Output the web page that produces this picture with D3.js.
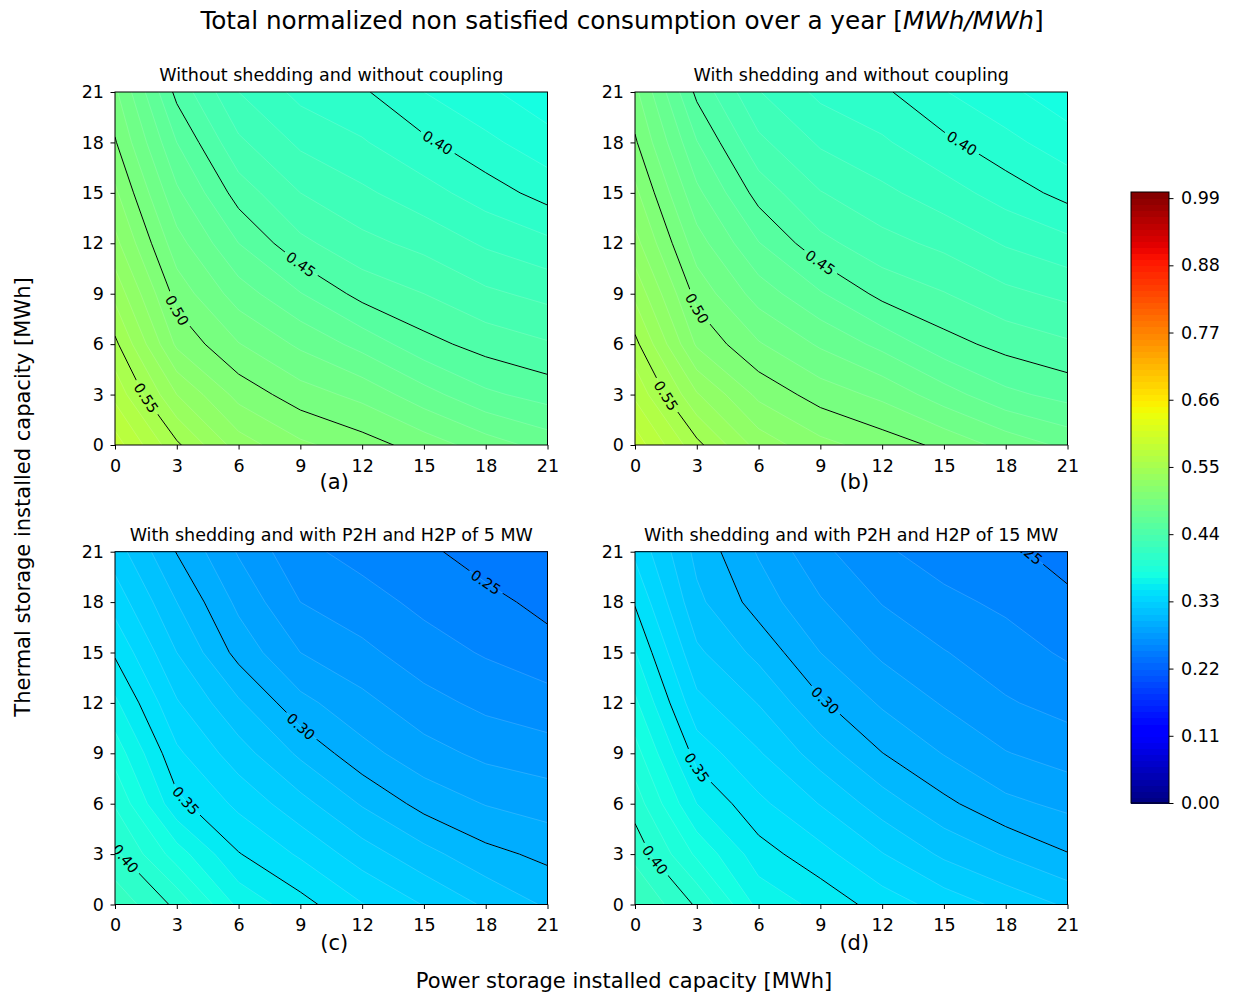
<!DOCTYPE html>
<html><head><meta charset="utf-8">
<script src="https://cdn.jsdelivr.net/npm/d3@7"></script>
<style>
body{margin:0;background:#fff;}
svg text{font-family:"DejaVu Sans",sans-serif;fill:#000;}
</style></head><body>
<svg id="chart" width="1233" height="994"></svg>
<script>
// ---------------- data ----------------
const xValues = [0, 3, 6, 9, 12, 15, 18, 21];   // power storage [MWh]
const yValues = [0, 3, 6, 9, 12, 15, 18, 21];   // thermal storage [MWh]
const xTicks = [0, 3, 6, 9, 12, 15, 18, 21];
const yTicks = [0, 3, 6, 9, 12, 15, 18, 21];

const panelTitles = [
  "Without shedding and without coupling",
  "With shedding and without coupling",
  "With shedding and with P2H and H2P of 5 MW",
  "With shedding and with P2H and H2P of 15 MW"
];
const panelLetters = ["(a)", "(b)", "(c)", "(d)"];

// rows: thermal storage 0..21 (bottom to top); columns: power storage 0..21
const zA = [
  [0.585, 0.552, 0.525, 0.512, 0.5045, 0.4956, 0.485, 0.476],
  [0.567, 0.530, 0.5065, 0.4947, 0.487, 0.474, 0.462, 0.456],
  [0.5525, 0.508, 0.4905, 0.478, 0.4665, 0.4535, 0.446, 0.441],
  [0.537, 0.496, 0.475, 0.4605, 0.4465, 0.440, 0.432, 0.427],
  [0.523, 0.484, 0.460, 0.4425, 0.433, 0.427, 0.4185, 0.4125],
  [0.512, 0.472, 0.4455, 0.430, 0.422, 0.414, 0.405, 0.396],
  [0.501, 0.460, 0.432, 0.418, 0.411, 0.402, 0.3925, 0.384],
  [0.492, 0.447, 0.420, 0.407, 0.4015, 0.390, 0.382, 0.373]
];
const zB = [
  [0.586, 0.553, 0.526, 0.513, 0.5055, 0.4975, 0.4865, 0.4775],
  [0.568, 0.531, 0.5075, 0.4955, 0.4875, 0.4745, 0.4625, 0.4565],
  [0.553, 0.5085, 0.491, 0.4785, 0.467, 0.454, 0.4465, 0.4415],
  [0.5375, 0.4965, 0.4755, 0.461, 0.447, 0.4405, 0.4325, 0.4275],
  [0.5235, 0.4845, 0.4605, 0.443, 0.4335, 0.4275, 0.419, 0.413],
  [0.5125, 0.4725, 0.446, 0.4305, 0.4225, 0.4145, 0.4055, 0.3965],
  [0.5015, 0.4605, 0.4325, 0.4185, 0.4115, 0.4025, 0.393, 0.3845],
  [0.4925, 0.4475, 0.4205, 0.4075, 0.402, 0.3905, 0.3825, 0.3735]
];
const zC = [
  [0.417, 0.3975, 0.3675, 0.3538, 0.3405, 0.3295, 0.3185, 0.3085],
  [0.4025, 0.375, 0.3506, 0.3385, 0.325, 0.3135, 0.303, 0.2975],
  [0.389, 0.3528, 0.3375, 0.3235, 0.309, 0.2965, 0.2895, 0.2855],
  [0.376, 0.342, 0.3245, 0.308, 0.2935, 0.284, 0.2775, 0.2745],
  [0.362, 0.331, 0.3115, 0.293, 0.283, 0.2735, 0.2675, 0.2635],
  [0.3485, 0.320, 0.2965, 0.280, 0.2725, 0.2645, 0.259, 0.2545],
  [0.336, 0.310, 0.2875, 0.270, 0.264, 0.2575, 0.2535, 0.2465],
  [0.325, 0.2995, 0.279, 0.2625, 0.2565, 0.2525, 0.2445, 0.240]
];
const zD = [
  [0.4205, 0.3985, 0.367, 0.357, 0.3455, 0.336, 0.327, 0.3185],
  [0.407, 0.378, 0.3545, 0.3435, 0.3305, 0.318, 0.309, 0.3005],
  [0.3955, 0.360, 0.3425, 0.3295, 0.315, 0.3025, 0.2925, 0.2875],
  [0.384, 0.346, 0.331, 0.315, 0.3002, 0.2895, 0.2805, 0.2755],
  [0.372, 0.333, 0.3195, 0.3015, 0.2885, 0.279, 0.271, 0.2665],
  [0.3605, 0.322, 0.307, 0.290, 0.278, 0.2705, 0.2645, 0.2585],
  [0.349, 0.3125, 0.2955, 0.281, 0.2695, 0.2625, 0.258, 0.2525],
  [0.338, 0.307, 0.289, 0.2725, 0.2615, 0.2555, 0.2525, 0.2455]
];

const lineLevelsTop = [0.40, 0.45, 0.50, 0.55];
const lineLevelsBottom = [0.25, 0.30, 0.35, 0.40];
// power-storage value where each contour label sits
const labelXA = [15.66, 9.02, 3.0, 1.5];
const labelXB = [15.87, 8.99, 3.0, 1.5];
const labelXC = [18.0, 9.02, 3.43, 0.49];
const labelXD = [18.7, 9.23, 3.0, 0.97];

const fillLevels = d3.range(0, 101).map(i => i / 100);
const colorbarTicks = [0, 0.11, 0.22, 0.33, 0.44, 0.55, 0.66, 0.77, 0.88, 0.99];

const suptitleMain = "Total normalized non satisfied consumption over a year [";
const suptitleUnit = "MWh/MWh";
const xAxisLabel = "Power storage installed capacity [MWh]";
const yAxisLabel = "Thermal storage installed capacity [MWh]";

// ---------------- jet colormap ----------------
function channel(pts) {
  return d3.scaleLinear().domain(pts.map(p => p[0])).range(pts.map(p => p[1])).clamp(true);
}
const jr = channel([[0, 0], [0.35, 0], [0.66, 1], [0.89, 1], [1, 0.5]]);
const jg = channel([[0, 0], [0.125, 0], [0.375, 1], [0.64, 1], [0.91, 0], [1, 0]]);
const jb = channel([[0, 0.5], [0.11, 1], [0.34, 1], [0.65, 0], [1, 0]]);
function jet(t) { return d3.rgb(jr(t) * 255, jg(t) * 255, jb(t) * 255).formatHex(); }

// ---------------- layout ----------------
const svg = d3.select("#chart");
const panels = [
  {left: 115, right: 547.5, top: 92, bottom: 445, z: zA, levels: lineLevelsTop, labelX: labelXA, letterDy: 43.5},
  {left: 635, right: 1067.5, top: 92, bottom: 445, z: zB, levels: lineLevelsTop, labelX: labelXB, letterDy: 43.5},
  {left: 115, right: 547.5, top: 551.7, bottom: 904.5, z: zC, levels: lineLevelsBottom, labelX: labelXC, letterDy: 45.5},
  {left: 635, right: 1067.5, top: 551.7, bottom: 904.5, z: zD, levels: lineLevelsBottom, labelX: labelXD, letterDy: 45.5}
];
const TICK_FONT = 17.5, CLABEL_FONT = 14.5;
const defs = svg.append("defs");

function extractLine(contour, toData, xmin, xmax, ymin, ymax) {
  let best = [];
  const eps = 1e-6;
  contour.coordinates.forEach(poly => poly.forEach(ring => {
    const pts = ring.map(([cx, cy]) => toData(cx, cy));
    const inside = pts.map(p => p[0] >= xmin - eps && p[0] <= xmax + eps && p[1] >= ymin - eps && p[1] <= ymax + eps);
    const n = pts.length;
    let start = inside.findIndex(v => !v);
    if (start < 0) start = 0;
    let cur = [];
    for (let k = 1; k <= n; k++) {
      const id = (start + k) % n;
      if (inside[id]) cur.push(pts[id]);
      else { if (cur.length > best.length) best = cur; cur = []; }
    }
    if (cur.length > best.length) best = cur;
  }));
  return best;
}

panels.forEach((p, idx) => {
  const x = d3.scaleLinear().domain([xValues[0], xValues[xValues.length - 1]]).range([p.left, p.right]);
  const y = d3.scaleLinear().domain([yValues[0], yValues[yValues.length - 1]]).range([p.bottom, p.top]);
  const nx = xValues.length, ny = yValues.length;
  const ix = d3.scaleLinear().domain(d3.range(nx)).range(xValues);
  const iy = d3.scaleLinear().domain(d3.range(ny)).range(yValues);
  const toData = (cx, cy) => [ix(cx - 0.5), iy(cy - 0.5)];
  const flat = [];
  for (let j = 0; j < ny; j++) for (let i = 0; i < nx; i++) flat.push(p.z[j][i]);
  const proj = d3.geoTransform({point(cx, cy) { const d = toData(cx, cy); this.stream.point(x(d[0]), y(d[1])); }});
  const path = d3.geoPath(proj);

  const clipId = "clip" + idx;
  defs.append("clipPath").attr("id", clipId).append("rect")
    .attr("x", p.left).attr("y", p.top).attr("width", p.right - p.left).attr("height", p.bottom - p.top);

  const g = svg.append("g").attr("clip-path", `url(#${clipId})`);
  const bands = d3.contours().size([nx, ny]).thresholds(fillLevels)(flat);
  bands.forEach(c => {
    if (!c.coordinates.length) return;
    g.append("path").attr("d", path(c))
      .attr("fill", jet(c.value + 0.005))
      .attr("stroke", "rgba(255,255,255,0.3)")
      .attr("stroke-width", 0.5);
  });

  // contour lines with inline labels
  const maskId = "mask" + idx;
  const mask = defs.append("mask").attr("id", maskId).attr("maskUnits", "userSpaceOnUse")
    .attr("x", 0).attr("y", 0).attr("width", 1233).attr("height", 994);
  mask.append("rect").attr("x", 0).attr("y", 0).attr("width", 1233).attr("height", 994).attr("fill", "#fff");
  const lineG = g.append("g").attr("mask", `url(#${maskId})`);
  const labelG = g.append("g");
  const xmin = xValues[0], xmax = xValues[nx - 1], ymin = yValues[0], ymax = yValues[ny - 1];

  p.levels.forEach((lev, li) => {
    const c = d3.contours().size([nx, ny]).contour(flat, lev);
    lineG.append("path").attr("d", path(c)).attr("fill", "none")
      .attr("stroke", "#000").attr("stroke-width", 1);
    const pts = extractLine(c, toData, xmin, xmax, ymin, ymax).map(d => [x(d[0]), y(d[1])]);
    if (pts.length < 2) return;
    const cum = [0];
    for (let k = 1; k < pts.length; k++) cum.push(cum[k - 1] + Math.hypot(pts[k][0] - pts[k - 1][0], pts[k][1] - pts[k - 1][1]));
    const total = cum[cum.length - 1];
    const tx = x(p.labelX[li]);
    let s0 = null;
    for (let k = 1; k < pts.length; k++) {
      const a = pts[k - 1][0], b = pts[k][0];
      if ((tx - a) * (tx - b) <= 0 && a !== b) { s0 = cum[k - 1] + (tx - a) / (b - a) * (cum[k] - cum[k - 1]); break; }
    }
    if (s0 === null) s0 = Math.abs(pts[0][0] - tx) < Math.abs(pts[pts.length - 1][0] - tx) ? 0 : total;
    const at = s => {
      s = Math.max(0, Math.min(total, s));
      for (let k = 1; k < pts.length; k++) {
        if (s <= cum[k] || k === pts.length - 1) {
          const f = (cum[k] - cum[k - 1]) > 0 ? (s - cum[k - 1]) / (cum[k] - cum[k - 1]) : 0;
          return [pts[k - 1][0] + f * (pts[k][0] - pts[k - 1][0]), pts[k - 1][1] + f * (pts[k][1] - pts[k - 1][1])];
        }
      }
      return pts[pts.length - 1];
    };
    const txt = labelG.append("text").attr("font-size", CLABEL_FONT)
      .attr("text-anchor", "middle").attr("dominant-baseline", "central")
      .text(d3.format(".2f")(lev));
    const w = txt.node().getComputedTextLength();
    const c0 = at(s0), pa = at(s0 - w / 2), pb = at(s0 + w / 2);
    let ang = Math.atan2(pb[1] - pa[1], pb[0] - pa[0]) * 180 / Math.PI;
    if (ang > 90) ang -= 180; if (ang < -90) ang += 180;
    txt.attr("transform", `translate(${c0[0]},${c0[1]}) rotate(${ang})`);
    mask.append("rect").attr("x", -w / 2 - 4).attr("y", -7.5).attr("width", w + 8).attr("height", 15)
      .attr("fill", "#000").attr("transform", `translate(${c0[0]},${c0[1]}) rotate(${ang})`);
  });

  // axes
  const xa = svg.append("g").attr("transform", `translate(0,${p.bottom})`)
    .call(d3.axisBottom(x).tickValues(xTicks).tickFormat(d3.format("d")).tickSize(4.5).tickSizeOuter(0).tickPadding(10));
  const ya = svg.append("g").attr("transform", `translate(${p.left},0)`)
    .call(d3.axisLeft(y).tickValues(yTicks).tickFormat(d3.format("d")).tickSize(4.5).tickSizeOuter(0).tickPadding(6.5));
  [xa, ya].forEach(a => {
    a.select(".domain").remove();
    a.selectAll("text").attr("font-size", TICK_FONT).attr("font-family", "DejaVu Sans").attr("fill", "#000");
    a.selectAll("line").attr("stroke", "#000");
  });
  svg.append("rect").attr("x", p.left).attr("y", p.top).attr("width", p.right - p.left).attr("height", p.bottom - p.top)
    .attr("fill", "none").attr("stroke", "#000").attr("stroke-width", 1);

  const cx = (p.left + p.right) / 2;
  svg.append("text").attr("x", cx).attr("y", p.top - 11).attr("text-anchor", "middle")
    .attr("font-size", 17.5).text(panelTitles[idx]);
  svg.append("text").attr("x", cx + 3).attr("y", p.bottom + p.letterDy).attr("text-anchor", "middle")
    .attr("font-size", 21).text(panelLetters[idx]);
});

// ---------------- colorbar ----------------
const cb = {left: 1131, right: 1169, top: 192, bottom: 803};
const cbScale = d3.scaleLinear().domain([0, 1]).range([cb.bottom, cb.top]);
const cbBands = d3.range(0, 100).map(i => i / 100);
svg.append("g").attr("shape-rendering", "crispEdges").selectAll("rect").data(cbBands).join("rect")
  .attr("x", cb.left).attr("width", cb.right - cb.left)
  .attr("y", d => cbScale(d + 0.01)).attr("height", d => cbScale(d) - cbScale(d + 0.01) + 1)
  .attr("fill", d => jet(d + 0.005));
svg.append("rect").attr("x", cb.left).attr("y", cb.top).attr("width", cb.right - cb.left).attr("height", cb.bottom - cb.top)
  .attr("fill", "none").attr("stroke", "#000").attr("stroke-width", 1);
const cba = svg.append("g").attr("transform", `translate(${cb.right},0)`)
  .call(d3.axisRight(cbScale).tickValues(colorbarTicks).tickFormat(d3.format(".2f")).tickSize(4.5).tickSizeOuter(0).tickPadding(7.5));
cba.select(".domain").remove();
cba.selectAll("text").attr("font-size", TICK_FONT).attr("font-family", "DejaVu Sans").attr("fill", "#000");
cba.selectAll("line").attr("stroke", "#000");

// ---------------- titles ----------------
const st = svg.append("text").attr("x", 622).attr("y", 29).attr("text-anchor", "middle").attr("font-size", 24.7);
st.append("tspan").text(suptitleMain);
st.append("tspan").attr("font-style", "italic").text(suptitleUnit);
st.append("tspan").text("]");
svg.append("text").attr("x", 624).attr("y", 988).attr("text-anchor", "middle").attr("font-size", 21).text(xAxisLabel);
svg.append("text").attr("transform", "translate(30,497) rotate(-90)").attr("text-anchor", "middle").attr("font-size", 21).text(yAxisLabel);
</script>
</body></html>
